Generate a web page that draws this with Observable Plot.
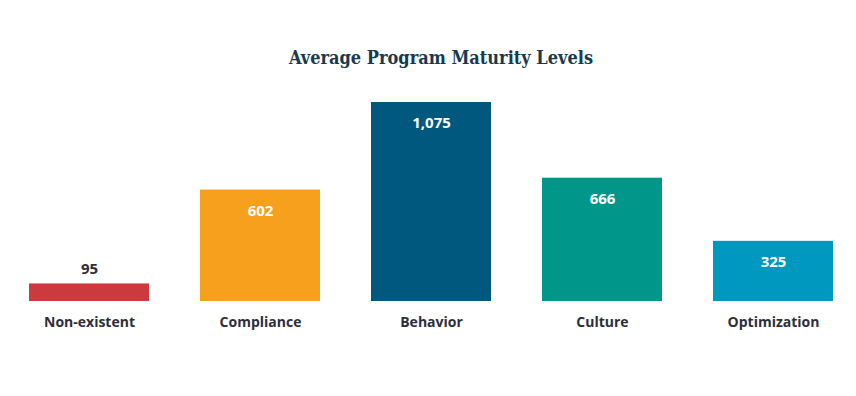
<!DOCTYPE html>
<html>
<head>
<meta charset="utf-8">
<script src="https://cdn.jsdelivr.net/npm/d3@7"></script>
<script src="https://cdn.jsdelivr.net/npm/@observablehq/plot@0.6"></script>
<style>
  html, body { margin: 0; padding: 0; background: #fff; width: 856px; height: 396px; overflow: hidden; }
  #title { height: 80px; box-sizing: border-box; padding-top: 47px; text-align: center;
    font-family: "DejaVu Serif Condensed", "DejaVu Serif", serif; font-weight: bold; font-size: 18px;
    color: #163a50; margin: 0; padding-left: 26px; }
  #chart svg { display: block; }
</style>
</head>
<body>
<div id="title">Average Program Maturity Levels</div>
<div id="chart"></div>
<script>
const categories = ["Non-existent", "Compliance", "Behavior", "Culture", "Optimization"];
const values = [95, 602, 1075, 666, 325];
const colors = ["#cc3a3f", "#f7a01d", "#00587f", "#00978a", "#0098be"];
const insideLabel = [false, true, true, true, true];

const data = categories.map((c, i) => ({category: c, value: values[i], color: colors[i], inside: insideLabel[i]}));
const fmt = d3.format(",");

const chart = Plot.plot({
  width: 856,
  height: 316,
  marginLeft: 28,
  marginRight: 23,
  marginTop: 22,
  marginBottom: 95,
  style: { fontFamily: "'Open Sans', sans-serif", background: "#fff" },
  x: { domain: categories, paddingInner: 0.3, paddingOuter: 0, label: null },
  y: { domain: [0, 1075], axis: null },
  marks: [
    Plot.barY(data, { x: "category", y: "value", fill: "color" }),
    Plot.text(data.filter(d => d.inside), { x: "category", y: "value", text: d => fmt(d.value), dy: 21,
      fill: "white", fontSize: 15, fontWeight: 700 }),
    Plot.text(data.filter(d => !d.inside), { x: "category", y: "value", text: d => fmt(d.value), dy: -15,
      fill: "#2e2e3a", fontSize: 15, fontWeight: 700 }),
    Plot.axisX({ tickSize: 0, tickPadding: 16, fontSize: 14, fontWeight: 700, color: "#2e2e3a", label: null })
  ]
});
document.getElementById("chart").appendChild(chart);
</script>
</body>
</html>
